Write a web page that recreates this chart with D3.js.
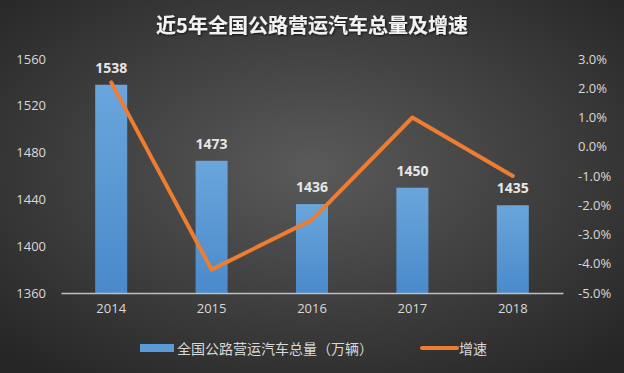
<!DOCTYPE html>
<html>
<head>
<meta charset="utf-8">
<script src="https://cdn.jsdelivr.net/npm/d3@7"></script>
<style>
  body { margin: 0; background: #333; }
  text { font-family: "Open Sans", "Noto Sans CJK SC", sans-serif; }
</style>
</head>
<body>
<div id="chart"></div>
<script>
// chart data
const years = ["2014", "2015", "2016", "2017", "2018"];
const totals = [1538, 1473, 1436, 1450, 1435];
const growth = [2.2, -4.2, -2.5, 1.0, -1.0];
const leftTicks = [1360, 1400, 1440, 1480, 1520, 1560];
const rightTicks = [3, 2, 1, 0, -1, -2, -3, -4, -5];

const TITLE = "近5年全国公路营运汽车总量及增速";
const BAR_NAME = "全国公路营运汽车总量（万辆）";
const LINE_NAME = "增速";

const BAR_COLOR = "#5b9bd5";
const LINE_COLOR = "#ed7d31";
const TEXT_COLOR = "#d9d9d9";

const width = 624, height = 373;
const plot = {left: 61, right: 563, top: 59, bottom: 293};

var svg = d3.select("#chart")
    .append("svg")
    .attr("width", width)
    .attr("height", height);

var defs = svg.append("defs");
var bg = defs.append("radialGradient")
    .attr("id", "bg")
    .attr("cx", "50%").attr("cy", "45%").attr("r", "70%");
bg.append("stop").attr("offset", "0%").attr("stop-color", "#5a5a5a");
bg.append("stop").attr("offset", "100%").attr("stop-color", "#262626");

var barGrad = defs.append("linearGradient")
    .attr("id", "bar").attr("x1", 0).attr("y1", 0).attr("x2", 0).attr("y2", 1);
barGrad.append("stop").attr("offset", "0%").attr("stop-color", "#6aa6dc");
barGrad.append("stop").attr("offset", "100%").attr("stop-color", "#4a8acb");

var shadow = defs.append("filter").attr("id", "shadow");
shadow.append("feDropShadow")
    .attr("dx", 1).attr("dy", 1).attr("stdDeviation", 1)
    .attr("flood-color", "#000").attr("flood-opacity", 0.7);

svg.append("rect")
    .attr("width", width)
    .attr("height", height)
    .attr("fill", "url(#bg)");

svg.append("text")
    .attr("x", width / 2)
    .attr("y", 33)
    .attr("text-anchor", "middle")
    .attr("fill", "#f2f2f2")
    .attr("font-size", 20)
    .attr("font-weight", "bold")
    .attr("filter", "url(#shadow)")
    .style("font-family", "'Noto Sans CJK SC', sans-serif")
    .text(TITLE);

var xScale = d3.scaleBand()
    .domain(years)
    .range([plot.left, plot.right]);

var yLeft = d3.scaleLinear()
    .domain([1360, 1560])
    .range([plot.bottom, plot.top]);

var yRight = d3.scaleLinear()
    .domain([-5, 3])
    .range([plot.bottom, plot.top]);

// left axis
svg.append("g")
    .attr("transform", `translate(${plot.left - 15},0)`)
    .call(d3.axisLeft(yLeft).tickValues(leftTicks).tickSize(0).tickFormat(d3.format("d")))
    .call(g => g.select(".domain").remove())
    .selectAll("text")
    .attr("x", 0)
    .attr("text-anchor", "end")
    .attr("fill", TEXT_COLOR)
    .attr("font-size", 13)
    .style("font-family", "'Open Sans', sans-serif");

// right axis
svg.append("g")
    .attr("transform", `translate(${plot.right + 15},0)`)
    .call(d3.axisRight(yRight).tickValues(rightTicks).tickSize(0)
        .tickFormat(d => d.toFixed(1) + "%"))
    .call(g => g.select(".domain").remove())
    .selectAll("text")
    .attr("x", 0)
    .attr("text-anchor", "start")
    .attr("fill", TEXT_COLOR)
    .attr("font-size", 13)
    .style("font-family", "'Open Sans', sans-serif");

// bars
var barW = 32;
svg.selectAll(".bar")
    .data(years)
    .enter()
    .append("rect")
    .attr("class", "bar")
    .attr("x", (d, i) => xScale(d) + xScale.bandwidth() / 2 - barW / 2)
    .attr("y", (d, i) => yLeft(totals[i]))
    .attr("width", barW)
    .attr("height", (d, i) => plot.bottom - yLeft(totals[i]))
    .attr("fill", "url(#bar)");

// x axis
svg.append("g")
    .attr("transform", `translate(0,${plot.bottom})`)
    .call(d3.axisBottom(xScale).tickSize(0).tickPadding(11))
    .call(g => g.select(".domain").attr("stroke", "#bfbfbf").attr("stroke-width", 1.5))
    .selectAll("text")
    .attr("fill", TEXT_COLOR)
    .attr("font-size", 13)
    .style("font-family", "'Open Sans', sans-serif");

// bar labels
svg.selectAll(".label")
    .data(years)
    .enter()
    .append("text")
    .attr("class", "label")
    .attr("x", d => xScale(d) + xScale.bandwidth() / 2)
    .attr("y", (d, i) => yLeft(totals[i]) - 12)
    .attr("text-anchor", "middle")
    .attr("fill", "#e6e6e6")
    .attr("font-size", 14)
    .attr("font-weight", "bold")
    .text((d, i) => totals[i]);

// growth line
var line = d3.line()
    .x((d, i) => xScale(years[i]) + xScale.bandwidth() / 2)
    .y(d => yRight(d));

svg.append("path")
    .datum(growth)
    .attr("d", line)
    .attr("fill", "none")
    .attr("stroke", LINE_COLOR)
    .attr("stroke-width", 4)
    .attr("stroke-linecap", "round")
    .attr("stroke-linejoin", "round");

// legend
var legend = svg.append("g").attr("transform", "translate(0,348)");
legend.append("rect")
    .attr("x", 140).attr("y", -4)
    .attr("width", 34).attr("height", 8)
    .attr("fill", BAR_COLOR);
legend.append("text")
    .attr("x", 177).attr("y", 6)
    .attr("fill", TEXT_COLOR)
    .attr("font-size", 14)
    .style("font-family", "'Noto Sans CJK SC', sans-serif")
    .text(BAR_NAME);
legend.append("line")
    .attr("x1", 422).attr("x2", 457)
    .attr("y1", 0).attr("y2", 0)
    .attr("stroke", LINE_COLOR)
    .attr("stroke-width", 4)
    .attr("stroke-linecap", "round");
legend.append("text")
    .attr("x", 459).attr("y", 6)
    .attr("fill", TEXT_COLOR)
    .attr("font-size", 14)
    .style("font-family", "'Noto Sans CJK SC', sans-serif")
    .text(LINE_NAME);
</script>
</body>
</html>
